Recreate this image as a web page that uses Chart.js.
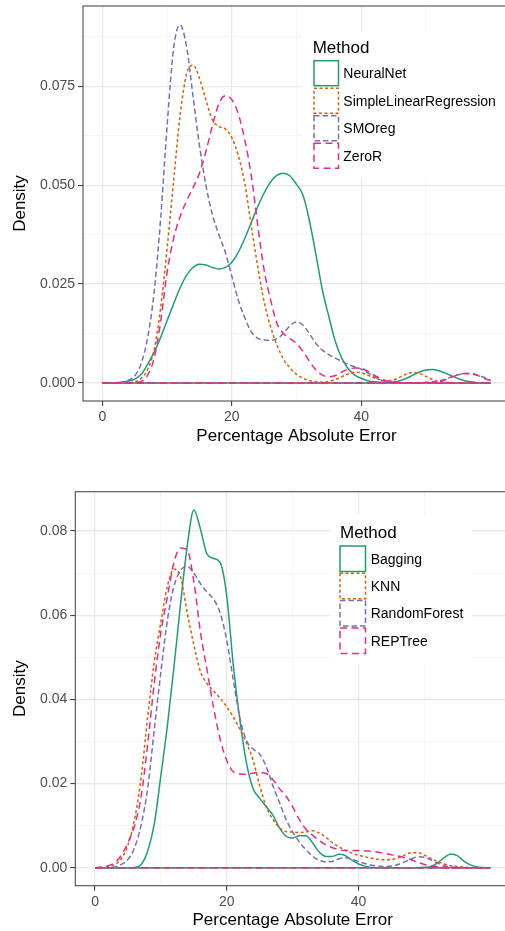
<!DOCTYPE html>
<html>
<head>
<meta charset="utf-8">
<script src="https://cdn.jsdelivr.net/npm/chart.js@4.4.1/dist/chart.umd.min.js"></script>
<style>
  html, body { margin: 0; padding: 0; background: #fff; overflow: hidden; width: 505px; height: 931px; }
  canvas { position: absolute; left: 0; }
</style>
</head>
<body>
<canvas id="topChart" width="520" height="465" style="top:0"></canvas>
<canvas id="bottomChart" width="520" height="466" style="top:465px"></canvas>
<script>
// x grid shared by every density curve
var xs = [0,1,2,3,4,5,6,7,8,9,10,11,12,13,14,15,16,17,18,19,20,21,22,23,24,25,26,27,28,29,30,
          31,32,33,34,35,36,37,38,39,40,41,42,43,44,45,46,47,48,49,50,51,52,53,54,55,56,57,58,59,60];

// ---- top panel ----
var topMethods = ['NeuralNet', 'SimpleLinearRegression', 'SMOreg', 'ZeroR'];
var neuralNet = [0,0,0.0001,0.0002,0.0005,0.001,0.0022,0.0048,0.0078,0.0115,0.0158,0.02,0.024,0.0272,0.0292,0.03,
  0.0298,0.0292,0.0288,0.0292,0.0305,0.033,0.0365,0.0405,0.0445,0.048,0.0508,0.0525,0.053,0.0523,0.0502,
  0.0475,0.041,0.0325,0.0235,0.0168,0.0105,0.0063,0.0036,0.002,0.0012,0.0006,0.0003,0.0002,0.0002,0.0003,
  0.0006,0.0012,0.002,0.0028,0.0033,0.0034,0.0031,0.0025,0.0018,0.0011,0.0006,0.0003,0.0001,0.00005,0];
var simpleLinReg = [0,0,0,0,0.0001,0.0003,0.0012,0.0035,0.0085,0.019,0.034,0.051,0.0675,0.078,0.0803,0.077,
  0.0715,0.0665,0.0648,0.0642,0.062,0.0575,0.0505,0.0398,0.0295,0.0205,0.0142,0.0095,0.006,0.0038,0.0022,
  0.0012,0.0006,0.0003,0.0002,0.0004,0.0009,0.0016,0.0023,0.0027,0.0026,0.002,0.0013,0.0008,0.0006,0.0008,
  0.0015,0.0023,0.0027,0.0024,0.0017,0.0009,0.0004,0.0002,0.0001,0.00005,0,0,0,0,0];
var smoReg = [0,0,0.00005,0.0002,0.0007,0.0018,0.005,0.0115,0.023,0.0415,0.065,0.0845,0.0905,0.085,0.0725,0.06,
  0.05,0.0425,0.0375,0.033,0.027,0.021,0.0165,0.013,0.0113,0.0109,0.0108,0.0112,0.0126,0.0145,0.0154,
  0.0146,0.0125,0.01,0.0083,0.0072,0.0063,0.0055,0.0047,0.0041,0.0035,0.0026,0.0016,0.0008,0.0004,0.0002,
  0.0001,0.0001,0.0001,0.0001,0.0002,0.0003,0.0005,0.001,0.0016,0.0021,0.0024,0.0024,0.002,0.0014,0.0007];
var zeroR = [0,0,0,0,0,0.0001,0.0004,0.002,0.0063,0.0155,0.028,0.0365,0.042,0.046,0.0493,0.053,
  0.0585,0.065,0.0705,0.0726,0.0716,0.068,0.0615,0.0525,0.040,0.0285,0.021,0.015,0.0125,0.0112,0.010,
  0.008,0.0055,0.0033,0.002,0.0016,0.0019,0.0028,0.0035,0.0038,0.0037,0.003,0.002,0.0011,0.0005,0.0002,
  0.0001,0.0001,0.0001,0.0001,0.0001,0.0001,0.0003,0.0008,0.0015,0.0021,0.0024,0.0023,0.0019,0.0012,0.0006];
var topYMajor = [0, 0.025, 0.05, 0.075];
var topYLabels = ['0.000', '0.025', '0.050', '0.075'];
var topYMinor = [0.0125, 0.0375, 0.0625, 0.0875];

// ---- bottom panel ----
var bottomMethods = ['Bagging', 'KNN', 'RandomForest', 'REPTree'];
var bagging = [0,0,0,0,0,0,0.0001,0.0008,0.004,0.0105,0.022,0.034,0.048,0.063,0.0765,0.085,
  0.0805,0.0745,0.0735,0.0725,0.0645,0.048,0.035,0.0248,0.0188,0.0165,0.0145,0.0125,0.0095,0.0075,0.0071,
  0.0076,0.0076,0.006,0.0038,0.0027,0.0027,0.0032,0.0029,0.0018,0.0009,0.0004,0.0001,0,0,0,
  0,0,0,0,0.0001,0.0003,0.0012,0.0024,0.0033,0.0029,0.0016,0.0007,0.0002,0.00005,0];
var knn = [0,0,0.0003,0.0008,0.0022,0.0055,0.0115,0.0215,0.036,0.049,0.0585,0.067,0.071,0.069,0.0605,0.053,
  0.0466,0.0438,0.042,0.0403,0.0382,0.0358,0.0329,0.0296,0.0255,0.0195,0.0145,0.0115,0.0095,0.0086,0.0085,
  0.0084,0.0085,0.0088,0.0083,0.0073,0.006,0.005,0.0042,0.0035,0.003,0.0026,0.0023,0.002,0.0019,0.002,
  0.0024,0.003,0.0036,0.0036,0.003,0.0022,0.0015,0.0009,0.0005,0.0003,0.00015,0.00005,0,0,0];
var randomForest = [0,0,0.00005,0.0002,0.0008,0.002,0.0048,0.0102,0.019,0.033,0.0466,0.059,0.067,0.0707,0.0716,0.07,
  0.0675,0.0655,0.0638,0.0605,0.054,0.0445,0.0355,0.0302,0.0282,0.027,0.024,0.0195,0.0155,0.0115,0.0085,
  0.0062,0.0043,0.0028,0.0018,0.0014,0.0015,0.0021,0.0024,0.002,0.0015,0.001,0.0006,0.0004,0.0003,0.0004,
  0.0008,0.0014,0.0021,0.0026,0.0025,0.0019,0.0011,0.0005,0.0002,0.0001,0,0,0,0,0];
var repTree = [0,0.0002,0.0005,0.0012,0.003,0.006,0.010,0.017,0.0295,0.044,0.056,0.0645,0.0727,0.076,0.0755,0.068,
  0.056,0.047,0.038,0.0305,0.0255,0.0228,0.0223,0.0222,0.0225,0.0226,0.0224,0.021,0.0188,0.017,0.0145,
  0.0115,0.0092,0.0078,0.0065,0.0055,0.0048,0.0043,0.0041,0.0041,0.0041,0.004,0.0039,0.0037,0.0034,0.0031,
  0.0028,0.0024,0.0019,0.0013,0.0008,0.0005,0.0003,0.00015,0.00005,0,0,0,0,0,0];
var bottomYMajor = [0, 0.02, 0.04, 0.06, 0.08];
var bottomYLabels = ['0.00', '0.02', '0.04', '0.06', '0.08'];
var bottomYMinor = [0.01, 0.03, 0.05, 0.07];

var xMajor = [0, 20, 40];
var xLabels = ['0', '20', '40'];
var xMinor = [10, 30, 50];

var colors = ['#1B9E77', '#D95F02', '#7570B3', '#E7298A'];
var dashes = [[], [3, 2.5], [5.5, 3], [7, 4.5]];
var FONT = "'Liberation Sans', Arial, sans-serif";

Chart.defaults.font.family = FONT;

function tickList(major, labels, minor) {
    var list = [];
    major.forEach(function(v, i) { list.push({value: v, label: labels[i], minor: false}); });
    minor.forEach(function(v) { list.push({value: v, label: '', minor: true}); });
    list.sort(function(a, b) { return a.value - b.value; });
    return list;
}

// panel border + inside legend, drawn on top like ggplot does
var panelPlugin = {
    id: 'panel',
    afterDraw: function(chart, args, opts) {
        var ctx = chart.ctx, a = chart.chartArea;
        ctx.save();
        ctx.strokeStyle = '#4d4d4d';
        ctx.lineWidth = 1.1;
        ctx.strokeRect(a.left, a.top, a.right - a.left, a.bottom - a.top);

        ctx.fillStyle = '#fff';
        ctx.fillRect(opts.boxLeft, opts.boxTop, opts.boxRight - opts.boxLeft, opts.boxBottom - opts.boxTop);
        ctx.fillStyle = '#000';
        ctx.textBaseline = 'alphabetic';
        ctx.font = '17px ' + FONT;
        ctx.fillText('Method', opts.titleX, opts.titleY);
        ctx.font = '14px ' + FONT;
        var keys = chart.data.datasets.filter(function(d) { return !d.isBase; });
        keys.forEach(function(d, i) {
            var y = opts.keyTop + i * opts.pitch;
            ctx.strokeStyle = d.borderColor;
            ctx.lineWidth = 1.5;
            ctx.setLineDash(d.borderDash);
            ctx.strokeRect(opts.keyX, y, opts.keyW, opts.keyH);
            ctx.setLineDash([]);
            ctx.fillStyle = '#000';
            ctx.fillText(d.label, opts.labelX, y + opts.keyH / 2 + 5);
        });
        ctx.restore();
    }
};

function makeChart(id, methods, series, yTicks, yMin, yMax, lay) {
    var datasets = [];
    methods.forEach(function(name, i) {
        var pts = xs.map(function(x, j) { return {x: x, y: series[i][j]}; });
        datasets.push({
            label: name, data: pts, borderColor: colors[i], borderDash: dashes[i],
            borderWidth: 1.5, pointRadius: 0, fill: false, cubicInterpolationMode: 'monotone',
            order: methods.length - i
        });
        // the density polygon's bottom edge
        datasets.push({
            label: name + ' base', isBase: true,
            data: [{x: xs[0], y: 0}, {x: xs[xs.length - 1], y: 0}],
            borderColor: colors[i], borderDash: dashes[i], borderWidth: 1.5, pointRadius: 0,
            fill: false, order: methods.length - i
        });
    });

    return new Chart(document.getElementById(id), {
        type: 'line',
        data: {datasets: datasets},
        plugins: [panelPlugin],
        options: {
            responsive: false,
            animation: false,
            layout: {padding: {top: lay.padTop, right: 10, bottom: 0, left: 0}},
            plugins: {
                legend: {display: false},
                tooltip: {enabled: false},
                panel: lay.legend
            },
            scales: {
                x: {
                    type: 'linear', min: -3, max: 63, bounds: 'data',
                    afterBuildTicks: function(s) { s.ticks = tickList(xMajor, xLabels, xMinor); },
                    afterFit: function(s) { s.height = lay.xHeight; s.paddingLeft = 0; s.paddingRight = 0; },
                    ticks: {
                        autoSkip: false, maxRotation: 0, padding: 3, color: '#4d4d4d', font: {size: 14},
                        callback: function(v, i, t) { return t[i].label; }
                    },
                    grid: {
                        color: function(c) { return c.tick && c.tick.minor ? '#f3f3f3' : '#e8e8e8'; },
                        lineWidth: function(c) { return c.tick && c.tick.minor ? 0.8 : 1.2; },
                        tickColor: function(c) { return c.tick && c.tick.minor ? 'rgba(0,0,0,0)' : '#333'; },
                        tickLength: 5, tickWidth: 1
                    },
                    border: {display: false},
                    title: {
                        display: true, text: 'Percentage Absolute Error', color: '#000',
                        font: {size: 17}, padding: {top: 0, bottom: lay.xTitlePad}
                    }
                },
                y: {
                    type: 'linear', min: yMin, max: yMax, bounds: 'data',
                    afterBuildTicks: function(s) { s.ticks = yTicks; },
                    afterFit: function(s) { s.width = lay.yWidth; s.paddingTop = 0; s.paddingBottom = 0; },
                    ticks: {
                        autoSkip: false, padding: 3, color: '#4d4d4d', font: {size: 14},
                        callback: function(v, i, t) { return t[i].label; }
                    },
                    grid: {
                        color: function(c) { return c.tick && c.tick.minor ? '#f3f3f3' : '#e8e8e8'; },
                        lineWidth: function(c) { return c.tick && c.tick.minor ? 0.8 : 1.2; },
                        tickColor: function(c) { return c.tick && c.tick.minor ? 'rgba(0,0,0,0)' : '#333'; },
                        tickLength: 5, tickWidth: 1
                    },
                    border: {display: false},
                    title: {
                        display: true, text: 'Density', color: '#000',
                        font: {size: 17}, padding: {top: 10, bottom: 0}
                    }
                }
            }
        }
    });
}

makeChart('topChart', topMethods, [neuralNet, simpleLinReg, smoReg, zeroR],
    tickList(topYMajor, topYLabels, topYMinor), -0.004535, 0.09524, {
        padTop: 6, xHeight: 64, yWidth: 83, xTitlePad: 18.7,
        legend: {boxLeft: 302, boxTop: 32, boxRight: 520, boxBottom: 178,
                 titleX: 312.7, titleY: 53.3, keyX: 314, keyTop: 60.7, keyW: 24.5, keyH: 25,
                 pitch: 27.5, labelX: 343.3}
    });

makeChart('bottomChart', bottomMethods, [bagging, knn, randomForest, repTree],
    tickList(bottomYMajor, bottomYLabels, bottomYMinor), -0.004255, 0.089355, {
        padTop: 26.7, xHeight: 45.3, yWidth: 75.3, xTitlePad: 0,
        legend: {boxLeft: 330, boxTop: 50, boxRight: 472, boxBottom: 199,
                 titleX: 340, titleY: 73.3, keyX: 340, keyTop: 81, keyW: 25.5, keyH: 25.5,
                 pitch: 27.3, labelX: 370.7}
    });
</script>
</body>
</html>
